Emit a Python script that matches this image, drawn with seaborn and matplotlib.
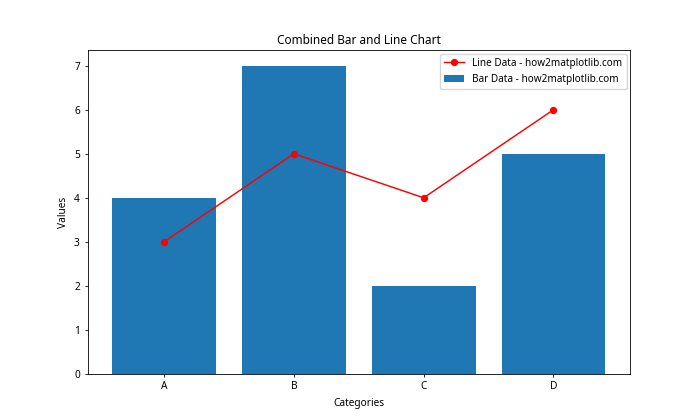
import matplotlib
matplotlib.use("Agg")
import matplotlib.pyplot as plt
import seaborn as sns
import pandas as pd

categories = ["A", "B", "C", "D"]
bar_values = [4, 7, 2, 5]
line_values = [3, 5, 4, 6]

plt.rcParams['font.family'] = ['Noto Sans', 'DejaVu Sans']
plt.rcParams['axes.linewidth'] = 0.6
plt.rcParams['xtick.major.width'] = 0.6
plt.rcParams['ytick.major.width'] = 0.6
plt.rcParams['xtick.major.size'] = 2.5
plt.rcParams['ytick.major.size'] = 2.5
plt.rcParams['legend.edgecolor'] = '0.8'

df = pd.DataFrame({"cat": categories, "bar": bar_values, "line": line_values})

fig, ax = plt.subplots(figsize=(7, 4.2), dpi=100)
sns.barplot(data=df, x="cat", y="bar", color="#1f77b4", saturation=1, width=0.8,
            label="Bar Data - how2matplotlib.com", ax=ax)
sns.lineplot(data=df, x="cat", y="line", color="red", marker="o", markersize=4.5,
             markeredgecolor="red", linewidth=1.05, label="Line Data - how2matplotlib.com", ax=ax)
ax.set_xlim(-0.59, 3.59)
ax.set_ylim(0, 7.35)
ax.set_title("Combined Bar and Line Chart", fontsize=8.5, pad=4.5)
ax.set_xlabel("Categories", fontsize=7.3, labelpad=4)
ax.set_ylabel("Values", fontsize=7.3, labelpad=3.5)
ax.tick_params(labelsize=7.3, pad=3)
h, l = ax.get_legend_handles_labels()
order = [l.index("Line Data - how2matplotlib.com"), l.index("Bar Data - how2matplotlib.com")]
ax.legend([h[i] for i in order], [l[i] for i in order], loc="upper right", fontsize=7.2,
          borderaxespad=0.35)
fig.savefig("out.png", dpi=100)
